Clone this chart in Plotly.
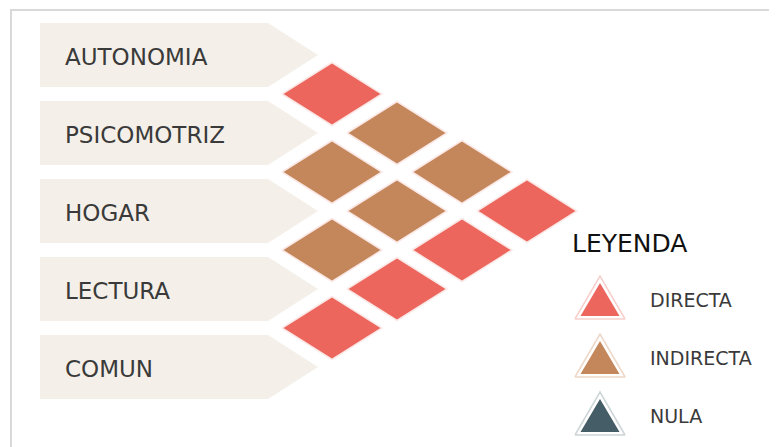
import plotly.graph_objects as go

# relation matrix between areas
categorias = ["AUTONOMIA", "PSICOMOTRIZ", "HOGAR", "LECTURA", "COMUN"]
par_desde = [0, 1, 2, 3, 0, 1, 2, 0, 1, 0]
par_hasta = [1, 2, 3, 4, 2, 3, 4, 3, 4, 4]
relacion = ["DIRECTA", "INDIRECTA", "INDIRECTA", "DIRECTA",
            "INDIRECTA", "INDIRECTA", "DIRECTA",
            "INDIRECTA", "DIRECTA",
            "DIRECTA"]
leyenda = ["DIRECTA", "INDIRECTA", "NULA"]

colores = {"DIRECTA": "#EC665D", "INDIRECTA": "#C4875C", "NULA": "#455D66"}
halo = {"DIRECTA": "#F8CFCB", "INDIRECTA": "#EDD8C8", "NULA": "#CDD5D8"}

W, H = 777, 447
OFF = 8  # page margin of the html body
FONT = "DejaVu Sans"

# geometry in pixels (y grows downward)
y0, paso = 55, 78
alto_banda = 64
bx0, bx1, punta = 40, 268, 318
cx0, dx = 332, 65
rx, ry = 50, 31.5

fila_y = [y0 + paso * k for k in range(len(categorias))]

fig = go.Figure()

# label banners
xs, ys = [], []
for yc in fila_y:
    top, bot = yc - alto_banda / 2, yc + alto_banda / 2
    xs += [bx0, bx1, punta, bx1, bx0, bx0, None]
    ys += [top, top, yc, bot, bot, top, None]
fig.add_trace(go.Scatter(x=xs, y=ys, mode="none", fill="toself",
                         fillcolor="#F4F0E9", hoverinfo="skip", showlegend=False))

for nombre, yc in zip(categorias, fila_y):
    fig.add_annotation(x=63, y=yc + 2, text=nombre, showarrow=False,
                       xanchor="left", yanchor="middle",
                       font=dict(family=FONT, size=23, color="#3a3a3a"))

# diamonds, one trace per relation type
for tipo in leyenda:
    xs, ys = [], []
    for a, b, r in zip(par_desde, par_hasta, relacion):
        if r != tipo:
            continue
        cx = cx0 + dx * (b - a - 1)
        cy = (fila_y[a] + fila_y[b]) / 2
        xs += [cx - rx, cx, cx + rx, cx, cx - rx, None]
        ys += [cy, cy - ry, cy, cy + ry, cy, None]
    if not xs:
        continue
    fig.add_trace(go.Scatter(x=xs, y=ys, mode="lines", fill="toself",
                             fillcolor=colores[tipo],
                             line=dict(color="#FBE9E7", width=1.5),
                             hoverinfo="skip", showlegend=False))

# legend
fig.add_annotation(x=570, y=243, text="LEYENDA", showarrow=False,
                   xanchor="left", yanchor="middle",
                   font=dict(family=FONT, size=25, color="#111111"))

lx, ly0, lpaso = 600, 300, 58
for k, tipo in enumerate(leyenda):
    yc = ly0 + lpaso * k
    # outer halo triangle
    fig.add_trace(go.Scatter(
        x=[lx - 25, lx + 25, lx, lx - 25],
        y=[yc + 19, yc + 19, yc - 24, yc + 19],
        mode="lines", fill="toself", fillcolor="white",
        line=dict(color=halo[tipo], width=1.5),
        hoverinfo="skip", showlegend=False))
    fig.add_trace(go.Scatter(
        x=[lx - 19.5, lx + 19.5, lx, lx - 19.5],
        y=[yc + 16, yc + 16, yc - 17, yc + 16],
        mode="none", fill="toself", fillcolor=colores[tipo],
        hoverinfo="skip", showlegend=False))
    fig.add_annotation(x=648, y=yc, text=tipo, showarrow=False,
                       xanchor="left", yanchor="middle",
                       font=dict(family=FONT, size=19, color="#3a3a3a"))

# frame
fig.add_shape(type="rect", x0=11, y0=10, x1=W + 30, y1=H + 30,
              line=dict(color="#D9D9D9", width=2), layer="below")

fig.update_layout(
    width=W, height=H,
    margin=dict(l=0, r=0, t=0, b=0),
    paper_bgcolor="white", plot_bgcolor="white",
    xaxis=dict(range=[OFF, W + OFF], visible=False, fixedrange=True),
    yaxis=dict(range=[H + OFF, OFF], visible=False, fixedrange=True),
    showlegend=False,
)

fig.write_html("out.html")
